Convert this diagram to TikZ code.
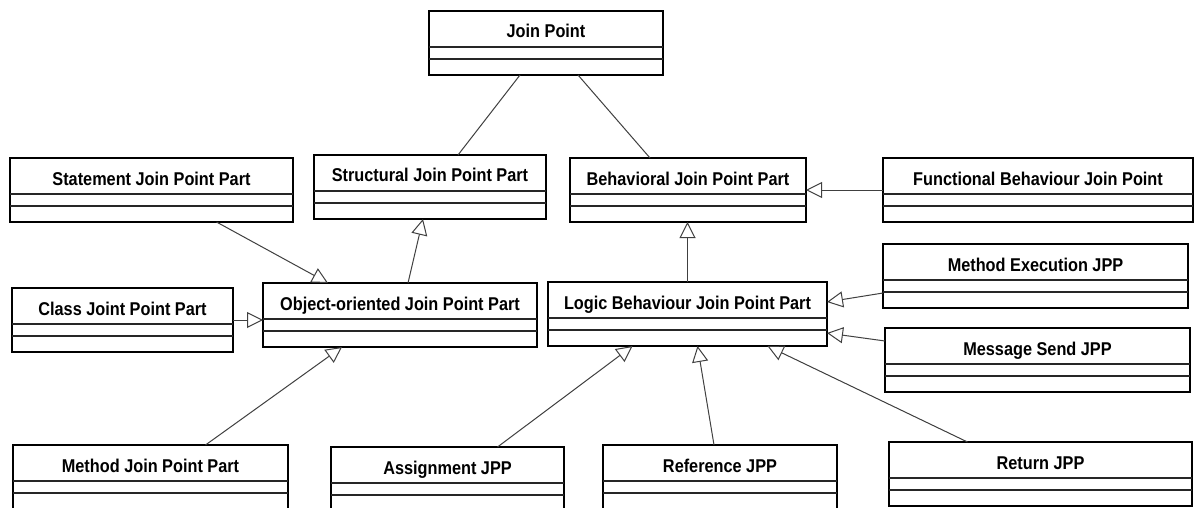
\documentclass[tikz,border=0pt]{standalone}
\usepackage{fontspec}
\setmainfont{Liberation Sans}[FakeStretch=0.88]
\usetikzlibrary{arrows.meta}
\begin{document}
\begin{tikzpicture}[x=1pt,y=-1pt,
  classbox/.style={draw, line width=2.2pt, anchor=north west, minimum height=64pt, inner sep=0pt, outer sep=0pt},
  compline/.style={line width=1.1pt, draw=black!85},
  classname/.style={anchor=base, font=\bfseries\fontsize{18.5pt}{20pt}\selectfont},
  assoc/.style={line width=1pt, draw=black!75},
  gen/.style={assoc, -{Triangle[open, length=16pt, width=16pt, line width=1pt]}}]
  \fill[white] (0,0) rectangle (1194,508);
  \useasboundingbox (0,0) rectangle (1194,508);
  \foreach \id/\px/\py/\cw/\lbl in {jp/429/11/234/Join Point,
      stmt/10/158/283/Statement Join Point Part,
      struct/314/155/232/Structural Join Point Part,
      behav/570/158/236/Behavioral Join Point Part,
      func/883/158/310/Functional Behaviour Join Point,
      class/12/288/221/Class Joint Point Part,
      oo/263/283/274/Object-oriented Join Point Part,
      logic/548/282/279/Logic Behaviour Join Point Part,
      mexec/883/244/305/Method Execution JPP,
      msend/885/328/305/Message Send JPP,
      mjp/13/445/275/Method Join Point Part,
      assign/331/447/233/Assignment JPP,
      ref/603/445/234/Reference JPP,
      ret/889/442/303/Return JPP}{
    \node[classbox, minimum width=\cw pt] (\id) at (\px,\py) {};
    \draw[compline] ([yshift=-36pt]\id.north west) -- ([yshift=-36pt]\id.north east);
    \draw[compline] ([yshift=-48pt]\id.north west) -- ([yshift=-48pt]\id.north east);
    \node[classname] (\id-t) at ([yshift=-27pt]\id.north) {\lbl};
  }
  \draw[assoc] ([xshift=-26pt]jp.south) -- ([xshift=28pt]struct.north);
  \draw[assoc] ([xshift=32pt]jp.south) -- ([xshift=-38pt]behav.north);
  \draw[gen] (func.west) -- (func.west -| behav.east);
  \draw[gen] ([xshift=8pt]oo.north) -- ([xshift=-7pt]struct.south);
  \draw[gen] ([xshift=65pt]stmt.south) -- ([xshift=-72pt]oo.north);
  \draw[gen] (class.east) -- (class.east -| oo.west);
  \draw[gen] ([xshift=55pt]mjp.north) -- ([xshift=-58pt]oo.south);
  \draw[gen] (logic.north) -- (logic.north |- behav.south);
  \draw[gen] ([yshift=-17pt]mexec.west) -- ([yshift=12pt]logic.east);
  \draw[gen] ([yshift=19pt]msend.west) -- ([yshift=-19pt]logic.east);
  \draw[gen] ([xshift=50pt]assign.north) -- ([xshift=-55pt]logic.south);
  \draw[gen] ([xshift=-6pt]ref.north) -- ([xshift=10pt]logic.south);
  \draw[gen] ([xshift=-73pt]ret.north) -- ([xshift=80pt]logic.south);
\end{tikzpicture}
\end{document}
